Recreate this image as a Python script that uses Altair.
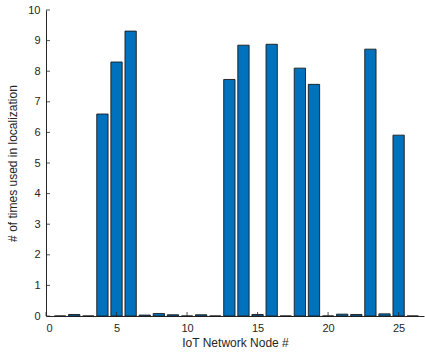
import altair as alt
import pandas as pd

# Usage count of each IoT node in localization
nodes = list(range(1, 27))
counts = [0.0, 0.05, 0.0, 6.6, 8.3, 9.31, 0.03, 0.08, 0.04, 0.0,
          0.04, 0.0, 7.73, 8.85, 0.05, 8.88, 0.0, 8.1, 7.57, 0.0,
          0.06, 0.05, 8.72, 0.07, 5.91, 0.0]

x_ticks = [0, 5, 10, 15, 20, 25]
y_ticks = list(range(0, 11))

W, H = 378, 306
AXIS = "#262626"
FONT = "Liberation Sans"

df = pd.DataFrame({"node": nodes, "count": counts})

xs = alt.Scale(domain=[0, 26.8], nice=False, zero=False)
ys = alt.Scale(domain=[0, 10], nice=False)

x_axis = alt.Axis(values=x_ticks, title="IoT Network Node #", grid=False,
                  ticks=False, domainColor=AXIS, labelColor=AXIS,
                  labelFontSize=11, labelFont=FONT, labelPadding=6,
                  labelOverlap=False,
                  titleFont=FONT, titleFontSize=12, titleFontWeight="normal",
                  titleColor=AXIS, titlePadding=4)
y_axis = alt.Axis(values=y_ticks, title="# of times used in localization",
                  grid=False, ticks=False, domainColor=AXIS, labelColor=AXIS,
                  labelFontSize=11, labelFont=FONT, labelPadding=6,
                  labelOverlap=False,
                  titleFont=FONT, titleFontSize=12, titleFontWeight="normal",
                  titleColor=AXIS, titlePadding=8)

bars = alt.Chart(df).transform_calculate(
    x0="datum.node - 0.4", x1="datum.node + 0.4", base="0"
).mark_bar(color="#0072BD", stroke="#1a1a1a", strokeWidth=0.9, cornerRadius=0).encode(
    x=alt.X("x0:Q", scale=xs, axis=x_axis),
    x2="x1:Q",
    y=alt.Y("count:Q", scale=ys, axis=y_axis),
    y2="base:Q",
)

# inward-pointing tick marks
xt = alt.Chart(pd.DataFrame({"t": x_ticks})).mark_rule(color=AXIS, strokeWidth=0.8).encode(
    x=alt.X("t:Q", scale=xs, axis=x_axis), y=alt.value(H), y2=alt.value(H - 4)
)
yt = alt.Chart(pd.DataFrame({"t": y_ticks})).mark_rule(color=AXIS, strokeWidth=0.8).encode(
    y=alt.Y("t:Q", scale=ys, axis=y_axis), x=alt.value(0), x2=alt.value(4)
)

chart = alt.layer(bars, xt, yt).properties(
    width=W, height=H,
    autosize=alt.AutoSizeParams(type="none"),
    padding={"left": 46, "top": 10, "right": 1, "bottom": 41},
    background="white",
).configure_view(stroke=None)

chart.save("out.html", embed_options={"renderer": "svg", "actions": False})
